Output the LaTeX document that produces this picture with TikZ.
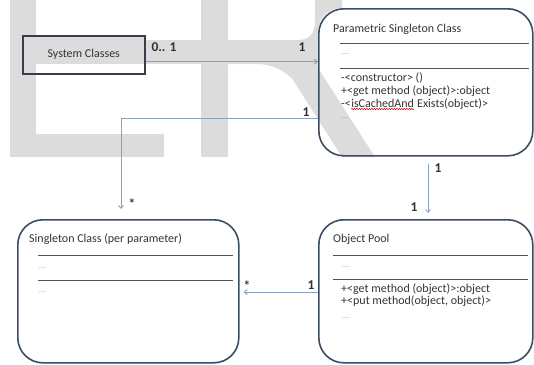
\documentclass[tikz,border=0pt]{standalone}
\usepackage{fontspec}
\setmainfont{Carlito}
\usetikzlibrary{arrows.meta,decorations.pathmorphing}
\definecolor{wm}{HTML}{DCDCDC}
\definecolor{boxc}{HTML}{3C4D63}
\definecolor{sysc}{HTML}{353F4C}
\definecolor{arr}{HTML}{8BA4BD}
\definecolor{txt}{HTML}{333333}
\begin{document}
\begin{tikzpicture}[x=1pt,y=-1pt,
  umlbox/.style={draw=boxc, line width=1.6pt, rounded corners=25pt, anchor=north west, inner sep=0pt},
  sysbox/.style={draw=sysc, line width=1.5pt, anchor=north west, inner sep=0pt, text=txt, font=\fontsize{12}{13}\selectfont},
  conn/.style={draw=arr, line width=0.9pt, -{Straight Barb[length=3pt,width=5pt]}},
  txtn/.style={anchor=base west, inner sep=0pt, text=txt, font=\fontsize{12}{13}\selectfont},
  dots/.style={anchor=base west, inner sep=0pt, text=gray!70, font=\fontsize{8}{9}\selectfont},
  mult/.style={inner sep=0pt, text=txt, font=\fontsize{13.5}{14}\selectfont\bfseries},
  divider/.style={draw=txt!85, line width=0.9pt}]
\useasboundingbox (0,0) rectangle (534,364);
% watermark
\fill[wm] (10,0) rectangle (36,157);
\fill[wm] (10,134) rectangle (164,157);
\fill[wm] (36,40) rectangle (228,64);
\fill[wm] (22,35) rectangle (144,64);
\fill[wm] (201,0) rectangle (228,157);
\fill[wm] (228,40) -- (298,40) .. controls (309,40) and (314,34) .. (315,24) -- (315,0) -- (342,0) -- (342,8)
  .. controls (328,8) and (318,18) .. (318,32) -- (318,68) -- (375,157) -- (342,157) -- (293,80)
  .. controls (285,71) and (273,64) .. (256,64) -- (228,64) -- cycle;
% boxes
\node[sysbox, minimum width=122pt, minimum height=38pt] (sys) at (22,35) {System Classes};
\node[umlbox, minimum width=214pt, minimum height=147pt] (psc) at (318,8) {};
\node[umlbox, minimum width=221pt, minimum height=143pt] (scp) at (17,219) {};
\node[umlbox, minimum width=214pt, minimum height=143pt] (pool) at (318,219) {};
% Parametric Singleton Class
\node[txtn] (pscT) at (333,32) {Parametric Singleton Class};
\draw[divider] (340,43) -- (529,43);
\node[dots] (pscD1) at (341,54) {....};
\draw[divider] (340,68) -- (529,68);
\node[txtn] (pscM1) at (341,81) {-<constructor> ()};
\node[txtn] (pscM2) at (341,94) {+<get method (object)>:object};
\node[txtn] (pscM3a) at (341,107) {-<};
\node[txtn] (pscM3b) at (pscM3a.base east) {isCachedAnd};
\node[txtn] (pscM3c) at (pscM3b.base east) {\ Exists(object)>};
\draw[red!80!black, line width=0.5pt, decorate, decoration={snake, amplitude=0.6pt, segment length=2.5pt}]
  ([yshift=-2pt]pscM3b.base west) -- ([yshift=-2pt]pscM3b.base east);
\node[dots] (pscD2) at (341,118) {....};
% Singleton Class (per parameter)
\node[txtn] (scpT) at (29,242) {Singleton Class (per parameter)};
\draw[divider] (38,255) -- (233,255);
\node[dots] (scpD1) at (38,268) {....};
\draw[divider] (38,280) -- (233,280);
\node[dots] (scpD2) at (38,292) {....};
% Object Pool
\node[txtn] (poolT) at (333,242) {Object Pool};
\draw[divider] (333,255) -- (528,255);
\node[dots] (poolD1) at (342,267) {....};
\draw[divider] (333,279) -- (528,279);
\node[txtn] (poolM1) at (341,292) {+<get method (object)>:object};
\node[txtn] (poolM2) at (341,304) {+<put method(object, object)>};
\node[dots] (poolD2) at (342,318) {....};
% connectors
\draw[conn] (sys.east |- 0,61.5) -- (psc.west |- 0,61.5);
\draw[conn, shorten >=10pt] (psc.west |- 0,118) -| (scp.north -| 121,0);
\draw[conn, shorten <=7pt, shorten >=6pt] (psc.south -| 428,0) -- (pool.north -| 428,0);
\draw[conn, shorten >=4pt] (pool.west |- 0,292) -- (scp.east |- 0,292);
% multiplicities
\node[mult] (m01) at (164,47) {0.. 1};
\node[mult] (m1a) at (302,47) {1};
\node[mult] (m1b) at (306,112) {1};
\node[mult] (mst1) at (132,204) {*};
\node[mult] (m1c) at (438,168) {1};
\node[mult] (m1d) at (414,207) {1};
\node[mult] (m1e) at (311,285) {1};
\node[mult] (mst2) at (247,286) {*};
\end{tikzpicture}
\end{document}
